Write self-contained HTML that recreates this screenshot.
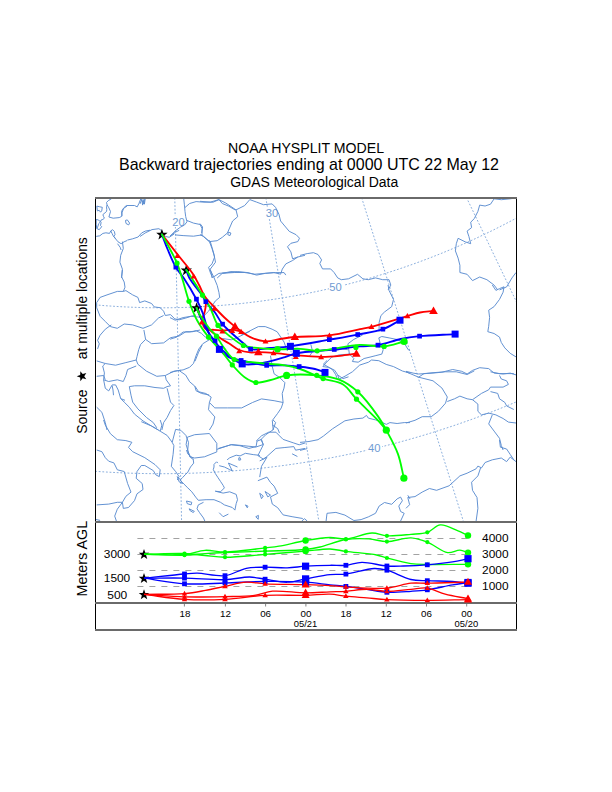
<!DOCTYPE html>
<html><head><meta charset="utf-8">
<style>
html,body{margin:0;padding:0;background:#fff;width:612px;height:792px;overflow:hidden}
svg{display:block;font-family:"Liberation Sans",sans-serif}
</style></head><body>
<svg width="612" height="792" viewBox="0 0 612 792">
<rect width="612" height="792" fill="#fff"/>
<!-- titles -->
<text x="228" y="152.8" font-size="14" textLength="156" lengthAdjust="spacingAndGlyphs">NOAA HYSPLIT MODEL</text>
<text x="119" y="169.9" font-size="17" textLength="380" lengthAdjust="spacingAndGlyphs">Backward trajectories ending at 0000 UTC 22 May 12</text>
<text x="230.2" y="186.8" font-size="14" textLength="168" lengthAdjust="spacingAndGlyphs">GDAS Meteorological Data</text>

<g id="map">
<clipPath id="mc"><rect x="96" y="199" width="420" height="322"/></clipPath><g clip-path="url(#mc)"><g fill="none" stroke="#8cb0de" stroke-width="1" stroke-dasharray="1.8,1.8"><line x1="174.63" y1="190.70" x2="181.76" y2="530"/><line x1="264.69" y1="190.70" x2="320.32" y2="530"/><line x1="359.49" y1="190.80" x2="466.12" y2="530"/><line x1="463.27" y1="190.80" x2="625.77" y2="530"/><path d="M88.0,304.19 92.0,304.57 96.0,304.93 100.0,305.27 104.0,305.59 108.0,305.89 112.0,306.16 116.0,306.42 120.0,306.65 124.0,306.86 128.0,307.05 132.0,307.22 136.0,307.37 140.0,307.49 144.0,307.60 148.0,307.68 152.0,307.74 156.0,307.78 160.0,307.80 164.0,307.80 168.0,307.77 172.0,307.72 176.0,307.66 180.0,307.57 184.0,307.46 188.0,307.33 192.0,307.17 196.0,307.00 200.0,306.80 204.0,306.58 208.0,306.35 212.0,306.08 216.0,305.80 220.0,305.50 224.0,305.17 228.0,304.83 232.0,304.46 236.0,304.07 240.0,303.65 244.0,303.22 248.0,302.76 252.0,302.29 256.0,301.79 260.0,301.26 264.0,300.72 268.0,300.16 272.0,299.57 276.0,298.96 280.0,298.33 284.0,297.67 288.0,297.00 292.0,296.30 296.0,295.57 300.0,294.83 304.0,294.06 308.0,293.28 312.0,292.46 316.0,291.63 320.0,290.77 324.0,289.89 328.0,288.99 332.0,288.06 336.0,287.11 340.0,286.14 344.0,285.14 348.0,284.12 352.0,283.08 356.0,282.01 360.0,280.92 364.0,279.80 368.0,278.67 372.0,277.50 376.0,276.32 380.0,275.10 384.0,273.87 388.0,272.61 392.0,271.32 396.0,270.01 400.0,268.67 404.0,267.31 408.0,265.93 412.0,264.52 416.0,263.08 420.0,261.62 424.0,260.13 428.0,258.61 432.0,257.07 436.0,255.50 440.0,253.91 444.0,252.29 448.0,250.64 452.0,248.97 456.0,247.26 460.0,245.53 464.0,243.78 468.0,241.99 472.0,240.17 476.0,238.33 480.0,236.46 484.0,234.56 488.0,232.63 492.0,230.67 496.0,228.68 500.0,226.66 504.0,224.62 508.0,222.54 512.0,220.43 516.0,218.28 520.0,216.11"/><path d="M88.0,470.74 92.0,471.06 96.0,471.35 100.0,471.63 104.0,471.89 108.0,472.14 112.0,472.36 116.0,472.57 120.0,472.76 124.0,472.93 128.0,473.09 132.0,473.23 136.0,473.35 140.0,473.45 144.0,473.53 148.0,473.60 152.0,473.65 156.0,473.68 160.0,473.70 164.0,473.70 168.0,473.68 172.0,473.64 176.0,473.58 180.0,473.51 184.0,473.42 188.0,473.31 192.0,473.19 196.0,473.04 200.0,472.88 204.0,472.71 208.0,472.51 212.0,472.30 216.0,472.07 220.0,471.82 224.0,471.55 228.0,471.27 232.0,470.97 236.0,470.65 240.0,470.31 244.0,469.96 248.0,469.58 252.0,469.19 256.0,468.79 260.0,468.36 264.0,467.92 268.0,467.46 272.0,466.98 276.0,466.48 280.0,465.96 284.0,465.43 288.0,464.88 292.0,464.31 296.0,463.72 300.0,463.12 304.0,462.50 308.0,461.85 312.0,461.19 316.0,460.52 320.0,459.82 324.0,459.10 328.0,458.37 332.0,457.62 336.0,456.85 340.0,456.06 344.0,455.25 348.0,454.43 352.0,453.58 356.0,452.72 360.0,451.84 364.0,450.94 368.0,450.02 372.0,449.08 376.0,448.12 380.0,447.14 384.0,446.15 388.0,445.13 392.0,444.10 396.0,443.04 400.0,441.97 404.0,440.88 408.0,439.77 412.0,438.63 416.0,437.48 420.0,436.31 424.0,435.12 428.0,433.91 432.0,432.68 436.0,431.43 440.0,430.15 444.0,428.86 448.0,427.55 452.0,426.22 456.0,424.86 460.0,423.49 464.0,422.10 468.0,420.68 472.0,419.24 476.0,417.79 480.0,416.31 484.0,414.81 488.0,413.29 492.0,411.74 496.0,410.18 500.0,408.59 504.0,406.98 508.0,405.35 512.0,403.70 516.0,402.03 520.0,400.33"/></g><g fill="#6f9bd3" font-size="11.2" font-family="Liberation Sans, sans-serif"><rect x="171" y="216" width="15" height="11" fill="#fff"/><text x="172.2" y="226.4">20</text><rect x="265" y="207" width="15" height="11" fill="#fff"/><text x="265.8" y="216.9">30</text><rect x="329" y="281" width="15" height="11" fill="#fff"/><text x="329.3" y="291">50</text><rect x="367" y="443" width="15" height="11" fill="#fff"/><text x="368" y="452.3">40</text></g><g fill="none" stroke="#5b8cd0" stroke-width="0.95" stroke-linejoin="round"><path d="M111.4,198.8 108.3,200.6 106.5,202.5 107.1,204.9 106.5,206.7 106.8,209.7 106.5,211.5 105.0,212.8 102.9,214.6 103.5,216.4 104.4,218.2 102.9,219.4 101.1,220.0 100.5,221.8 98.6,223.7 98.0,226.1 96.8,228.5"/><path d="M107.1,204.9 108.9,207.9 110.5,211.5 109.8,214.0 108.9,217.0 113.2,218.2 119.2,217.6 121.7,216.4 122.0,212.8 123.5,208.5 127.0,206.1"/><path d="M96.8,206.1 99.2,206.7 102.3,207.3 101.7,210.9 100.5,212.2 99.2,210.3 97.4,210.9 96.8,206.1"/><path d="M96.2,219.4 98.6,220.0 101.1,222.5 100.5,225.5 101.7,226.7 99.2,229.7 96.8,228.5 96.2,224.3 96.2,219.4"/><path d="M96.2,236.4 99.8,235.8 102.9,233.4 105.9,232.8 109.5,233.4 110.8,230.9 112.6,229.7 114.4,231.5 115.0,234.6 113.8,236.4 115.6,238.8 118.0,241.8 121.1,243.7 124.1,241.8 127.0,240.6"/><path d="M110.8,230.9 112.0,233.4 113.2,235.8 115.6,238.8"/><path d="M122.0,215.9 121.5,211.4 123.8,207.8 126.4,205.5 134.5,205.5 137.2,206.9 139.0,203.3 140.8,198.8"/><path d="M141.7,198.8 142.6,205.1 144.0,199.7 144.4,204.2 145.3,198.3"/><path d="M125.5,220.4 127.3,219.9 129.6,223.1 128.7,224.9 126.0,223.5 125.5,220.4"/><path d="M127.3,240.1 132.7,238.8 138.1,237.0 141.7,232.9 145.3,231.1 150.0,230.2"/><path d="M117.5,243.7 120.2,247.3 121.1,250.0"/><path d="M140.0,236.5 145.1,233.0 152.0,229.6 158.9,228.7 161.4,230.5 162.3,233.9 165.7,236.5 169.2,237.3 174.3,233.9"/><path d="M208.6,239.9 210.3,241.6 213.8,253.6 215.5,262.2 210.3,269.1 212.1,278.0"/><path d="M222.3,273.3 230.9,271.6 245.0,272.5"/><path d="M140.0,203.9 141.7,199.6 143.4,203.9 144.3,198.7"/><path d="M122.4,270.0 121.6,276.9 124.2,282.0 125.0,287.2 123.3,291.4"/><path d="M96.7,302.6 100.1,297.4 107.0,294.9 117.3,291.4 123.3,291.4 125.9,290.6 132.7,294.9 137.9,297.4 139.6,302.6 144.8,300.9 151.6,303.5 154.2,306.9 160.2,307.7 163.6,311.2 165.3,315.5 170.5,314.6 174.8,318.9 179.1,319.8 185.9,318.0 191.1,316.3 200.0,317.2"/><path d="M96.7,302.6 96.7,307.7 100.1,316.3 105.3,321.5 110.4,326.6 117.3,328.3 124.2,324.0 132.7,324.9 143.0,328.3 151.6,324.9 158.5,318.0 163.6,315.5"/><path d="M111.3,324.9 105.3,329.2 100.1,335.2 97.6,340.3 99.3,343.8 97.6,348.9"/><path d="M122.4,241.6 123.3,248.5 120.7,255.3 119.9,262.2 122.4,269.1 121.6,278.0"/><path d="M143.9,330.0 145.6,339.4 140.5,344.6 138.7,349.7 137.0,356.6 136.2,360.0 125.9,362.6 115.6,365.2 105.3,363.5 96.7,360.9"/><path d="M145.6,339.4 151.6,343.7 163.6,342.9 170.5,337.7 179.1,336.0 185.9,331.7 192.8,331.7 200.0,330.0"/><path d="M136.2,360.0 137.9,364.3 146.5,371.2 156.8,376.3 165.3,375.5 173.9,371.2 180.8,370.3"/><path d="M105.3,363.5 102.7,366.0 104.4,372.9 103.6,379.8 108.7,381.5 117.3,379.8 123.3,381.5 125.9,375.5 127.6,369.5 136.2,366.0"/><path d="M96.7,376.3 103.6,375.5 105.3,379.8"/><path d="M103.6,379.8 105.3,388.3 108.7,390.9 112.2,384.9 115.6,384.9 118.2,390.0 120.7,398.6 124.2,402.1 129.3,407.2 134.5,414.1 143.0,420.9 151.6,426.1 158.5,430.0"/><path d="M112.2,385.8 113.0,390.0 113.5,395.2"/><path d="M120.7,398.6 125.0,400.3"/><path d="M129.3,386.6 131.0,395.2 132.7,402.1 137.9,408.9 146.5,417.5 153.3,422.6 156.8,427.8"/><path d="M129.3,386.6 134.5,385.8 144.8,385.8 155.0,387.5 163.6,388.3 167.1,386.6 170.5,385.8 166.2,379.8 165.3,375.5"/><path d="M167.1,388.3 168.8,395.2 170.5,402.1 173.9,405.5 170.5,410.6 167.1,417.5 163.6,422.6 161.9,430.0"/><path d="M96.7,407.2 101.9,412.3 105.3,422.6 107.0,430.0"/><path d="M103.6,420.0 105.3,425.1 110.4,433.7 117.3,439.7 125.9,440.6 131.9,442.3 128.5,447.4 132.7,451.7 144.8,457.7 155.0,464.6 160.2,469.8 159.3,476.6 155.9,474.9 153.3,470.6 144.8,465.5 141.3,465.5 137.0,471.5 136.2,478.3 142.2,483.5 143.0,489.5 137.0,493.8 134.5,500.6 128.5,507.5 123.3,508.4 122.4,502.3"/><path d="M96.7,450.0 101.9,451.7 105.3,457.7 108.7,461.2 113.9,462.9 117.3,469.8 124.2,471.5 127.6,483.5 131.0,492.1 125.9,496.3 122.4,502.3 117.3,509.2 114.7,516.1 116.4,521.0"/><path d="M96.7,504.9 108.7,504.1 117.3,502.3 122.4,502.3"/><path d="M95.9,519.5 100.1,520.4"/><path d="M141.3,421.7 151.6,426.0 160.2,431.2 167.1,435.4 172.2,442.3 173.9,445.7 173.1,454.3 171.3,466.3 175.6,471.5 179.1,476.6 177.3,480.0"/><path d="M160.2,420.0 161.9,425.1 160.2,431.2"/><path d="M172.2,442.3 175.6,429.4 180.8,430.3 185.9,435.4 188.5,442.3 187.6,450.9 190.2,456.9 192.8,459.5"/><path d="M177.3,476.6 179.9,479.2 182.5,483.5 179.1,481.8 177.3,476.6"/><path d="M200.0,201.3 210.3,202.1 218.9,199.6 225.7,203.0 236.0,209.9 244.6,205.6 249.8,199.6 256.6,202.1 263.5,204.7 272.1,203.9 275.5,207.3 278.9,214.2 280.6,221.0 289.2,231.3 296.1,234.7 299.5,238.2 297.8,241.6 290.9,243.3 287.5,246.8 290.9,251.9 292.6,258.8 297.8,257.0 305.0,255.3"/><path d="M236.0,209.9 237.7,216.7 232.6,221.0 230.0,227.0 227.4,233.0 222.3,237.3 217.2,240.7 209.4,241.6 203.4,236.5 200.0,234.7"/><path d="M200.0,223.6 202.6,227.0 201.7,233.0"/><path d="M228.3,232.2 230.9,233.0 230.0,235.6 227.8,234.7 228.3,232.2"/><path d="M209.4,241.6 212.0,248.5 214.6,257.0 212.0,263.9 208.6,267.3 210.3,272.5 212.9,278.0"/><path d="M217.2,278.0 222.3,273.3 234.3,272.5 244.6,272.5 254.9,274.2 265.2,273.3 273.8,272.5 280.6,274.2 282.3,269.1 285.8,263.9 292.6,260.5 297.8,257.0"/><path d="M210.3,270.0 213.7,276.9 217.2,285.4 218.9,292.3 219.7,297.4 215.4,300.9 212.0,306.0 208.6,311.2 205.1,314.6 201.7,319.8"/><path d="M213.7,276.9 218.9,273.4 227.4,272.6 237.7,271.7 248.0,272.6 256.6,275.1 265.2,273.4 275.5,272.6 284.1,272.6 285.8,275.1"/><path d="M241.2,335.2 249.8,330.9 258.3,326.6 265.2,326.6 272.1,329.2 277.2,331.8 280.6,336.9 284.1,342.1 285.8,347.2 287.5,351.0"/><path d="M270.5,355.8 272.3,366.6 274.1,373.8 279.5,377.4 283.1,380.9 284.9,382.7"/><path d="M284.9,382.7 284.0,388.1 282.2,393.5 283.1,402.5 281.3,407.9 277.7,413.3 272.3,420.5 273.2,430.0"/><path d="M195.0,386.3 198.6,391.7 205.8,393.5 211.2,397.1 209.4,402.5 214.8,407.9 227.4,407.9 241.7,407.9 252.5,402.5 261.5,398.9 274.1,400.7 283.1,402.5"/><path d="M209.4,402.5 208.5,409.7 214.8,416.9 213.0,424.1 209.4,430.0"/><path d="M202.2,345.0 198.6,352.2 195.0,361.2"/><path d="M218.4,448.4 230.9,444.8 239.9,445.7 248.9,448.4 256.1,446.6 257.0,441.2 261.5,439.4 263.3,444.8 260.6,450.2 257.9,455.6 263.3,459.1 266.9,456.5"/><path d="M256.1,441.2 261.5,435.8 268.7,432.2 275.9,432.2 279.5,435.8 283.1,439.4 293.8,443.0 299.2,444.8 305.0,443.0"/><path d="M272.3,425.0 277.7,428.6 279.5,433.1"/><path d="M266.9,456.5 275.9,448.4 284.9,447.5 293.8,446.6 295.6,450.2 305.0,448.4"/><path d="M292.1,453.8 297.4,456.5"/><path d="M259.7,460.9 266.9,457.4 261.5,466.3 259.7,477.1"/><path d="M257.9,480.7 266.9,477.1 270.5,482.5 274.1,486.1 277.7,493.3 270.5,496.9 272.3,504.1 277.7,507.7 283.1,514.9 292.1,516.7 302.8,518.5"/><path d="M259.7,493.3 263.3,496.0 261.5,498.7 259.7,493.3"/><path d="M265.1,491.5 270.5,495.1 267.8,496.9 265.1,491.5"/><path d="M300.0,255.4 307.2,253.6 313.5,252.7 318.0,254.5 321.6,259.9 319.8,263.5 322.5,268.9 330.6,268.9 334.1,272.5 337.7,277.9 341.3,279.7 348.5,278.8 357.5,274.3 362.9,278.8 368.3,279.7 375.5,277.9 382.7,279.7 389.0,279.7 390.8,285.1 388.1,289.9"/><path d="M388.1,285.0 389.0,290.4 393.5,299.4 391.7,306.6 384.5,312.0 380.9,315.6 379.1,322.7 379.1,331.7"/><path d="M327.0,360.5 323.4,364.1 332.4,369.5 335.9,374.9 336.8,377.9"/><path d="M310.8,344.3 312.6,351.5 309.0,356.9"/><path d="M322.9,366.6 325.9,362.9 331.8,357.1 339.1,354.9 349.4,354.1 353.8,358.5 352.4,361.5 358.2,362.2 364.1,358.5 370.0,357.1 375.9,355.6 381.8,354.1 383.2,349.7 380.3,343.8 378.8,337.9 381.8,336.5 389.1,337.9 396.5,339.4 403.8,342.4 408.2,349.7 410.0,350.4"/><path d="M322.9,366.6 328.8,367.4 334.7,370.3 337.6,374.7 339.1,379.1 345.0,376.2 352.4,371.8 359.7,365.1 368.5,362.2 371.5,360.0"/><path d="M371.5,360.0 378.8,360.7 386.2,364.4 393.5,366.6 402.4,371.0 410.0,373.2"/><path d="M336.2,350.4 342.1,349.0 347.9,349.7"/><path d="M349.4,354.1 347.9,343.8 353.8,339.4 362.6,335.0"/><path d="M300.0,442.4 309.0,441.5 318.0,439.7 323.4,436.1 332.4,428.9 344.9,420.8 353.9,419.0 362.9,418.1 366.5,415.4 368.3,418.1 375.5,419.9 380.9,421.7 386.3,424.4 389.9,422.6 397.1,423.5 404.2,422.6 410.0,422.6"/><path d="M337.7,375.0 343.1,378.6 348.5,376.8"/><path d="M326.1,521.0 327.0,513.3 335.9,512.4 344.9,515.1 353.9,520.5 361.1,519.6 368.3,516.9 375.5,513.3 379.1,506.1 384.5,502.5 391.7,504.3 397.1,498.9 400.6,497.1 402.4,500.7 398.8,506.1 400.6,511.5 404.2,513.3 400.6,521.0"/><path d="M407.8,495.3 410.0,498.9"/><path d="M300.0,450.4 307.2,448.6"/><path d="M301.8,521.0 304.5,518.7 307.2,521.0"/><path d="M516.0,197.9 510.2,198.8 501.3,199.7 494.1,198.8 490.5,204.2 485.1,206.0 479.7,205.1 477.9,211.4 474.3,218.6 470.7,222.2 471.6,227.6 467.1,231.1 468.9,236.5 470.7,243.7 465.3,241.9 458.1,238.3 456.3,243.7 455.4,250.9 458.1,258.1 459.9,265.3 459.9,272.5 467.1,274.3 472.5,280.6 479.7,277.0 486.9,279.7 494.1,285.1 497.7,289.9"/><path d="M499.5,289.9 506.6,286.9 512.0,277.9 516.0,272.5"/><path d="M492.3,285.0 495.9,290.4 499.5,288.6 504.0,286.8 503.1,292.2 499.5,299.4 494.1,306.6 488.7,310.2 489.6,317.4 488.7,326.3 487.8,331.7 494.1,333.5 499.5,337.1 501.3,342.5 504.8,347.9 510.2,353.3 516.0,356.9"/><path d="M406.0,371.3 413.2,373.1 418.6,374.0 433.0,373.1 441.9,372.2 452.7,369.5 461.7,371.3 467.1,374.0 472.5,370.4 479.7,367.7 488.7,368.6 494.1,373.1 503.1,374.0 510.2,373.1 516.0,374.9"/><path d="M406.0,371.8 418.6,377.2 424.0,373.6 433.0,372.7 445.5,371.8 456.3,371.8 467.1,374.5 474.3,370.9"/><path d="M490.5,371.8 499.5,373.6 513.8,373.6"/><path d="M418.6,377.2 433.0,380.8 441.9,388.0 447.3,397.0 445.5,403.2 438.4,411.3 431.2,416.7 422.2,416.7 415.0,420.3 406.0,423.0"/><path d="M447.3,401.5 454.5,398.8 459.9,396.1 467.1,398.8 472.5,399.7 477.9,404.1 477.9,411.3 481.5,414.9 488.7,413.1 495.9,414.9 503.1,418.5 508.4,422.1 516.0,423.0"/><path d="M472.5,399.7 481.5,393.4 488.7,389.8 490.5,387.1 503.1,387.1 508.4,384.4 506.6,380.8 501.3,379.0 499.5,375.4"/><path d="M490.5,391.6 497.7,393.4 499.5,398.8 504.8,402.4 506.6,405.9 513.8,409.5"/><path d="M492.3,414.9 488.7,423.9 494.1,431.1 499.5,438.3 501.3,445.5 503.1,450.0"/><path d="M406.0,508.3 409.6,504.7 407.8,497.5 415.0,496.6 422.2,492.1 429.4,488.5 436.6,490.3 449.1,485.8 459.9,475.9 467.1,473.2 476.1,468.8 477.9,466.1 481.5,467.9 485.1,462.5 492.3,459.8 501.3,458.0 506.6,461.6 510.2,457.1 516.0,461.6"/><path d="M499.5,440.0 500.4,447.2 506.6,449.0 510.2,454.4 513.8,459.8"/><path d="M480.6,467.9 477.9,475.9 471.6,482.2 472.5,490.3 477.0,497.5 477.9,508.3 476.1,521.1"/><path d="M170.0,317.6 175.2,320.2 183.1,317.6 190.9,316.3 196.1,315.0"/><path d="M170.0,339.2 176.5,337.2 183.1,332.0 189.6,332.0 196.1,330.7 201.4,333.3 204.0,335.9 209.2,339.8"/><path d="M209.2,339.8 202.7,343.8 198.8,349.0 196.1,355.5 193.5,363.4 189.6,367.3 183.1,369.9 177.8,370.6 170.0,372.5"/><path d="M179.2,370.6 185.7,375.1 189.6,381.7 194.8,386.2 196.1,390.8 201.4,393.4 209.2,395.0"/><path d="M222.3,338.5 231.4,339.8 238.0,337.2 250.0,331.3"/><path d="M186.5,450.0 187.8,453.9 193.1,458.5"/><path d="M193.1,458.5 193.7,463.1 190.5,467.0 187.8,472.2 185.2,474.8 182.6,477.5 180.0,480.1"/><path d="M216.6,461.8 214.0,464.4 214.0,467.0 213.3,469.6 215.3,473.5 217.9,477.5 220.5,481.4 223.1,485.3 224.4,487.9 220.5,491.8 215.3,491.2 223.1,493.1 229.7,491.8 236.2,494.4 237.5,499.7 236.2,503.6 234.9,510.1"/><path d="M219.2,465.7 224.4,467.0 229.7,469.6 232.3,470.9 228.4,463.1 237.5,467.0"/><path d="M217.9,463.1 216.6,461.8"/><path d="M227.1,459.8 229.7,457.8 236.2,455.2 240.1,455.9 245.4,453.3 253.2,454.6 258.4,455.2 260.0,455.9"/><path d="M238.8,457.8 240.1,457.8 240.8,459.8 238.8,460.2 238.8,457.8"/><path d="M180.0,480.1 183.9,484.0 187.8,487.9 191.8,491.8 195.7,497.1 198.3,500.3 206.1,499.7 214.0,499.7 220.5,502.3 224.4,504.9 232.3,507.5 234.9,510.1"/><path d="M203.5,502.3 198.3,504.9 197.0,508.8 199.6,512.7 203.5,518.0 204.8,521.0"/><path d="M219.2,512.7 223.1,516.7 228.4,514.1"/><path d="M186.5,501.0 191.8,502.3 191.1,504.9 187.2,503.6 186.5,501.0"/><path d="M189.2,508.8 194.4,511.4 193.1,512.5 189.8,510.4 189.2,508.8"/><path d="M245.4,504.9 248.0,506.2 247.3,507.8 245.4,504.9"/><path d="M255.8,516.7 258.4,515.4 258.2,519.3 255.8,516.7"/><path d="M187.4,437.2 194.7,434.7 209.4,433.5 216.8,443.3 216.8,451.9 204.5,456.8 194.7,458.0 189.8,456.8 186.1,444.5 187.4,437.2"/><path d="M216.8,449.4 231.5,444.5 243.7,445.7 256.0,447.0 263.3,444.5 260.9,439.6 265.8,434.7 273.1,429.8 275.6,422.5 273.1,420.0"/><path d="M183.7,198.3 184.4,204.8 185.0,211.4 185.7,216.6 187.0,221.8 184.4,225.1 180.5,227.1 175.2,231.0 170.0,236.2"/><path d="M185.0,207.5 189.6,203.5 196.1,201.6 204.0,202.2 213.1,202.2 219.0,199.6 222.3,203.5 228.8,206.2 235.4,210.1"/><path d="M187.0,220.5 193.5,223.1 200.1,224.5 202.0,228.4 202.0,234.9"/><path d="M175.2,234.9 183.1,235.6 193.5,236.2 202.0,234.9 209.2,241.4"/><path d="M170.0,236.2 175.2,232.3 179.2,230.3"/></g></g>
</g>
<g id="traj">
<path d="M161.90,228.70 L163.31,232.76 L167.61,232.85 L164.18,235.44 L165.43,239.55 L161.90,237.10 L158.37,239.55 L159.62,235.44 L156.19,232.85 L160.49,232.76Z" fill="#000"/>
<path d="M186.30,264.40 L187.71,268.46 L192.01,268.55 L188.58,271.14 L189.83,275.25 L186.30,272.80 L182.77,275.25 L184.02,271.14 L180.59,268.55 L184.89,268.46Z" fill="#000"/>
<path d="M196.60,302.20 L198.01,306.26 L202.31,306.35 L198.88,308.94 L200.13,313.05 L196.60,310.60 L193.07,313.05 L194.32,308.94 L190.89,306.35 L195.19,306.26Z" fill="#000"/>
<path d="M161.90,234.40 C167.33,241.37 172.95,248.64 178.20,255.30 C183.05,261.46 188.61,267.54 192.30,273.00 C195.18,277.27 196.96,280.99 199.10,285.00 C201.19,288.92 202.67,293.36 205.00,296.80 C207.13,299.94 209.53,302.01 212.30,305.00 C215.79,308.76 220.51,313.82 224.40,317.50 C227.74,320.66 230.99,323.40 234.10,325.90 C236.83,328.09 239.30,329.92 242.00,331.80 C244.70,333.69 246.98,335.72 250.30,337.20 C254.49,339.07 260.46,341.03 265.50,341.30 C270.36,341.56 275.14,339.71 280.00,339.00 C284.90,338.28 288.82,337.54 294.80,337.00 C303.91,336.18 318.27,336.78 329.40,335.40 C339.97,334.09 352.27,330.80 360.00,329.20 C364.72,328.22 366.57,328.02 371.40,326.80 C380.07,324.60 398.47,318.70 407.40,316.10 C412.67,314.56 415.69,313.36 420.00,312.50 C424.39,311.62 429.00,311.43 433.50,310.90" fill="none" stroke="#ff0000" stroke-width="1.85" stroke-linecap="round" stroke-linejoin="round"/>
<path d="M202.50,293.00 C203.60,295.33 205.31,297.35 205.80,300.00 C206.38,303.12 205.62,307.41 205.00,310.70 C204.45,313.62 202.71,316.16 202.50,318.80 C202.30,321.25 202.60,324.09 203.50,326.00 C204.26,327.61 205.47,329.13 207.00,329.80 C208.71,330.55 211.17,329.71 213.50,329.80 C216.24,329.91 219.24,330.47 222.40,330.50 C226.01,330.53 230.51,329.48 234.00,329.80 C236.94,330.07 239.33,331.13 242.00,331.80" fill="none" stroke="#ff0000" stroke-width="1.85" stroke-linecap="round" stroke-linejoin="round"/>
<path d="M196.60,307.90 C198.07,311.27 199.40,314.89 201.00,318.00 C202.46,320.84 203.43,323.20 205.70,325.90 C208.88,329.68 215.09,334.50 219.40,337.60 C222.83,340.07 225.93,341.46 229.20,343.50 C232.53,345.59 235.66,348.51 239.20,350.00 C242.61,351.43 246.62,352.07 250.00,352.40 C252.93,352.69 255.12,352.17 258.30,352.20 C262.61,352.25 267.96,352.47 273.50,352.90 C280.23,353.42 288.12,354.66 295.80,355.30 C303.96,355.98 313.28,356.78 321.10,356.80 C327.86,356.82 333.93,356.35 340.00,355.80 C345.67,355.29 350.93,354.40 356.40,353.70" fill="none" stroke="#ff0000" stroke-width="1.85" stroke-linecap="round" stroke-linejoin="round"/>
<path d="M161.90,234.40 C163.83,239.43 165.51,244.30 167.70,249.50 C170.10,255.20 172.84,262.15 175.80,267.20 C178.25,271.39 180.86,273.72 183.70,278.00 C187.56,283.81 193.06,292.90 196.40,299.20 C198.95,304.02 200.54,307.28 202.50,312.30 C204.99,318.70 206.78,329.82 209.60,334.70 C211.25,337.55 213.43,338.31 215.00,340.60 C216.75,343.14 217.27,346.75 219.40,349.40 C221.81,352.40 225.55,355.45 229.20,357.30 C232.82,359.14 237.09,359.50 241.20,360.50 C245.48,361.54 250.07,362.57 254.40,363.40 C258.56,364.19 262.18,365.03 266.70,365.40 C272.18,365.84 279.29,365.16 285.00,365.40 C290.04,365.61 294.35,366.03 299.20,366.60 C304.34,367.21 310.38,367.87 315.00,369.00 C318.76,369.92 321.67,371.27 325.00,372.40" fill="none" stroke="#0000ff" stroke-width="1.85" stroke-linecap="round" stroke-linejoin="round"/>
<path d="M186.30,270.10 C187.33,272.73 187.73,274.96 189.40,278.00 C192.10,282.93 199.65,291.62 202.50,296.00 C204.05,298.38 204.31,299.58 205.80,301.70 C207.97,304.78 212.03,308.57 214.80,312.30 C217.60,316.07 219.64,320.70 222.50,324.20 C225.15,327.44 227.94,329.70 231.20,332.70 C235.14,336.32 240.98,341.28 244.60,344.30 C247.01,346.31 247.87,348.30 250.70,349.20 C255.15,350.61 263.48,348.47 270.00,348.00 C276.71,347.51 282.53,347.29 290.40,346.30 C301.34,344.92 317.43,341.79 329.40,339.70 C339.62,337.92 348.64,336.41 357.80,334.60 C366.44,332.90 375.50,331.89 382.90,329.20 C389.32,326.87 394.30,323.20 400.00,320.20" fill="none" stroke="#0000ff" stroke-width="1.85" stroke-linecap="round" stroke-linejoin="round"/>
<path d="M196.60,307.90 C197.73,310.60 198.67,313.05 200.00,316.00 C201.64,319.63 203.49,323.92 205.80,328.00 C208.39,332.57 211.35,337.51 215.00,342.00 C218.97,346.88 224.16,352.23 229.00,356.00 C233.27,359.33 237.26,362.59 242.20,363.90 C247.51,365.30 253.62,364.38 260.00,363.50 C267.68,362.44 278.33,359.07 285.00,357.10 C289.53,355.76 291.35,354.37 296.30,353.30 C305.17,351.39 322.87,350.76 334.30,349.50 C343.71,348.46 352.19,347.13 360.00,346.40 C366.52,345.79 371.70,346.26 378.00,345.20 C385.21,343.99 393.52,340.53 400.80,339.00 C407.33,337.63 412.33,336.96 419.60,336.20 C429.55,335.17 443.27,334.80 455.10,334.10" fill="none" stroke="#0000ff" stroke-width="1.85" stroke-linecap="round" stroke-linejoin="round"/>
<path d="M161.90,234.40 C164.50,239.10 167.19,243.72 169.70,248.50 C172.23,253.32 174.92,258.22 177.00,263.20 C179.03,268.06 180.33,272.49 182.10,278.00 C184.30,284.87 186.40,294.03 189.00,301.30 C191.38,307.95 193.66,314.05 196.90,320.00 C200.18,326.02 204.33,331.78 208.60,337.20 C212.84,342.58 218.25,347.51 222.40,352.40 C226.05,356.71 228.69,360.85 232.30,364.90 C236.07,369.13 240.31,374.19 244.60,377.20 C248.23,379.75 251.59,381.95 255.90,382.50 C261.13,383.17 268.54,380.41 274.00,379.10 C278.61,377.99 281.43,376.15 286.60,375.40 C294.42,374.26 307.43,374.44 316.70,375.30 C324.78,376.05 332.31,376.81 339.20,379.60 C345.99,382.35 351.83,386.44 357.80,391.80 C365.01,398.28 373.34,409.68 378.40,416.90 C381.89,421.88 383.52,425.06 386.30,430.20 C389.95,436.95 395.05,445.95 398.00,454.10 C400.85,461.97 401.93,470.17 403.90,478.20" fill="none" stroke="#00ff00" stroke-width="1.85" stroke-linecap="round" stroke-linejoin="round"/>
<path d="M186.30,270.10 C187.63,272.07 188.63,273.45 190.30,276.00 C193.29,280.55 198.88,289.30 202.50,295.20 C205.55,300.15 208.18,304.12 210.70,309.00 C213.37,314.16 214.72,320.84 218.00,325.40 C221.02,329.60 225.12,332.44 229.20,335.70 C233.54,339.17 238.77,343.54 243.40,345.50 C247.13,347.08 250.04,347.12 254.40,347.70 C260.67,348.54 269.85,349.12 277.50,349.30 C285.05,349.48 293.01,348.47 300.00,348.80 C306.13,349.09 310.19,350.87 317.20,350.80 C328.28,350.68 347.73,345.36 360.00,344.90 C369.19,344.55 376.58,347.09 384.20,346.40 C391.21,345.77 397.47,343.13 404.10,341.50" fill="none" stroke="#00ff00" stroke-width="1.85" stroke-linecap="round" stroke-linejoin="round"/>
<path d="M196.60,307.90 C197.20,309.37 197.41,310.45 198.40,312.30 C200.38,316.00 205.62,323.71 209.00,328.00 C211.59,331.29 214.10,333.08 216.50,336.20 C219.24,339.76 221.37,344.57 224.30,348.40 C227.24,352.24 229.72,356.82 234.10,359.20 C239.30,362.02 246.92,361.54 254.40,362.50 C263.54,363.67 276.64,364.01 285.00,365.40 C290.92,366.39 294.54,367.22 300.00,369.00 C306.95,371.26 315.61,375.95 323.10,378.60 C329.94,381.02 337.49,380.99 343.10,384.50 C348.58,387.93 351.41,393.90 356.50,399.20 C362.83,405.79 373.02,414.97 378.40,420.80 C381.80,424.48 383.67,427.07 386.30,430.20" fill="none" stroke="#00ff00" stroke-width="1.85" stroke-linecap="round" stroke-linejoin="round"/>
<path d="M177.5,252.8L180.5,258.0L174.5,258.0Z" fill="#ff0000"/>
<path d="M193.7,273.4L196.7,278.6L190.7,278.6Z" fill="#ff0000"/>
<path d="M214.6,305.6L217.6,310.8L211.6,310.8Z" fill="#ff0000"/>
<path d="M235.0,322.0L239.2,329.4L230.8,329.4Z" fill="#ff0000"/>
<path d="M241.1,328.7L244.1,333.9L238.1,333.9Z" fill="#ff0000"/>
<path d="M265.5,338.4L268.5,343.6L262.5,343.6Z" fill="#ff0000"/>
<path d="M294.8,332.6L299.1,340.0L290.6,340.0Z" fill="#ff0000"/>
<path d="M329.4,332.5L332.4,337.7L326.4,337.7Z" fill="#ff0000"/>
<path d="M371.4,323.7L374.4,328.9L368.4,328.9Z" fill="#ff0000"/>
<path d="M407.4,313.0L410.4,318.2L404.4,318.2Z" fill="#ff0000"/>
<path d="M433.5,306.5L437.8,313.9L429.2,313.9Z" fill="#ff0000"/>
<path d="M201.7,319.4L204.7,324.6L198.7,324.6Z" fill="#ff0000"/>
<path d="M222.4,328.2L225.4,333.4L219.4,333.4Z" fill="#ff0000"/>
<path d="M232.2,327.7L235.2,332.9L229.2,332.9Z" fill="#ff0000"/>
<path d="M239.2,348.1L242.2,353.3L236.2,353.3Z" fill="#ff0000"/>
<path d="M258.3,347.8L262.6,355.2L254.1,355.2Z" fill="#ff0000"/>
<path d="M273.5,350.0L276.5,355.2L270.5,355.2Z" fill="#ff0000"/>
<path d="M295.8,353.9L298.8,359.1L292.8,359.1Z" fill="#ff0000"/>
<path d="M321.1,354.1L324.1,359.3L318.1,359.3Z" fill="#ff0000"/>
<path d="M356.4,349.3L360.6,356.7L352.1,356.7Z" fill="#ff0000"/>
<rect x="173.5" y="264.8" width="4.7" height="4.7" fill="#0000ff"/>
<rect x="194.1" y="296.8" width="4.7" height="4.7" fill="#0000ff"/>
<rect x="212.7" y="338.2" width="4.7" height="4.7" fill="#0000ff"/>
<rect x="215.9" y="345.9" width="7.0" height="7.0" fill="#0000ff"/>
<rect x="238.8" y="358.1" width="4.7" height="4.7" fill="#0000ff"/>
<rect x="264.3" y="363.0" width="4.7" height="4.7" fill="#0000ff"/>
<rect x="296.8" y="364.2" width="4.7" height="4.7" fill="#0000ff"/>
<rect x="321.5" y="368.9" width="7.0" height="7.0" fill="#0000ff"/>
<rect x="203.5" y="299.3" width="4.7" height="4.7" fill="#0000ff"/>
<rect x="220.2" y="321.8" width="4.7" height="4.7" fill="#0000ff"/>
<rect x="248.3" y="346.8" width="4.7" height="4.7" fill="#0000ff"/>
<rect x="286.9" y="342.8" width="7.0" height="7.0" fill="#0000ff"/>
<rect x="327.0" y="337.3" width="4.7" height="4.7" fill="#0000ff"/>
<rect x="355.4" y="332.2" width="4.7" height="4.7" fill="#0000ff"/>
<rect x="380.5" y="326.8" width="4.7" height="4.7" fill="#0000ff"/>
<rect x="396.5" y="316.7" width="7.0" height="7.0" fill="#0000ff"/>
<rect x="238.7" y="360.4" width="7.0" height="7.0" fill="#0000ff"/>
<rect x="292.8" y="349.8" width="7.0" height="7.0" fill="#0000ff"/>
<rect x="331.9" y="347.1" width="4.7" height="4.7" fill="#0000ff"/>
<rect x="375.6" y="342.8" width="4.7" height="4.7" fill="#0000ff"/>
<rect x="417.2" y="333.8" width="4.7" height="4.7" fill="#0000ff"/>
<rect x="451.6" y="330.6" width="7.0" height="7.0" fill="#0000ff"/>
<circle cx="177.0" cy="263.2" r="2.6" fill="#00ff00"/>
<circle cx="189.0" cy="301.3" r="2.6" fill="#00ff00"/>
<circle cx="208.6" cy="337.2" r="2.6" fill="#00ff00"/>
<circle cx="232.3" cy="364.9" r="2.6" fill="#00ff00"/>
<circle cx="255.9" cy="382.5" r="2.6" fill="#00ff00"/>
<circle cx="286.6" cy="375.4" r="3.6" fill="#00ff00"/>
<circle cx="316.7" cy="375.3" r="2.6" fill="#00ff00"/>
<circle cx="357.8" cy="391.8" r="2.6" fill="#00ff00"/>
<circle cx="386.3" cy="430.2" r="3.6" fill="#00ff00"/>
<circle cx="403.9" cy="478.2" r="3.6" fill="#00ff00"/>
<circle cx="202.5" cy="295.2" r="2.6" fill="#00ff00"/>
<circle cx="218.0" cy="325.4" r="2.6" fill="#00ff00"/>
<circle cx="243.4" cy="345.5" r="2.6" fill="#00ff00"/>
<circle cx="277.5" cy="349.3" r="3.3" fill="#00ff00"/>
<circle cx="317.2" cy="350.8" r="2.6" fill="#00ff00"/>
<circle cx="355.9" cy="347.4" r="2.6" fill="#00ff00"/>
<circle cx="384.2" cy="346.4" r="2.6" fill="#00ff00"/>
<circle cx="404.1" cy="341.5" r="3.6" fill="#00ff00"/>
<circle cx="216.5" cy="336.2" r="2.6" fill="#00ff00"/>
<circle cx="234.2" cy="359.6" r="2.6" fill="#00ff00"/>
<circle cx="323.1" cy="378.6" r="2.6" fill="#00ff00"/>
<circle cx="356.5" cy="399.2" r="2.6" fill="#00ff00"/>
</g>
<!-- frame -->
<g id="frame">
<rect x="95" y="197" width="1" height="434" fill="#000"/>
<rect x="516" y="197" width="1" height="434" fill="#000"/>
<rect x="95" y="197" width="422" height="2" fill="#6a6a6a"/>
<rect x="95" y="521" width="422" height="2" fill="#6a6a6a"/>
<rect x="95" y="602" width="422" height="2" fill="#6a6a6a"/>
<rect x="95" y="629" width="422" height="2" fill="#6a6a6a"/>
</g>

<!-- side labels -->
<text transform="translate(87.4,433.8) rotate(-90)" font-size="15" textLength="44.2" lengthAdjust="spacingAndGlyphs">Source</text>
<path d="M76.70,376.20 L80.20,374.89 L80.36,371.16 L82.69,374.08 L86.29,373.08 L84.23,376.20 L86.29,379.32 L82.69,378.32 L80.36,381.24 L80.20,377.51Z" fill="#000"/>
<text transform="translate(87.4,359.2) rotate(-90)" font-size="15" textLength="122" lengthAdjust="spacingAndGlyphs">at multiple locations</text>
<text transform="translate(87.2,596.5) rotate(-90)" font-size="15" textLength="75.6" lengthAdjust="spacingAndGlyphs">Meters AGL</text>

<!-- bottom panel -->
<g stroke="#a2a2a2" stroke-width="1" stroke-dasharray="6,6">
<line x1="137.4" y1="538.5" x2="469" y2="538.5"/>
<line x1="137.4" y1="554.5" x2="469" y2="554.5"/>
<line x1="137.4" y1="570.5" x2="469" y2="570.5"/>
<line x1="137.4" y1="586.5" x2="469" y2="586.5"/>
</g>
<g font-size="11.3">
<text x="482.1" y="542.2" textLength="26.4" lengthAdjust="spacingAndGlyphs">4000</text>
<text x="482.1" y="557.9" textLength="26.4" lengthAdjust="spacingAndGlyphs">3000</text>
<text x="482.1" y="574" textLength="26.4" lengthAdjust="spacingAndGlyphs">2000</text>
<text x="482.1" y="589.9" textLength="26.4" lengthAdjust="spacingAndGlyphs">1000</text>
<text x="103.8" y="557.9" textLength="26.4" lengthAdjust="spacingAndGlyphs">3000</text>
<text x="103.8" y="581.7" textLength="26.4" lengthAdjust="spacingAndGlyphs">1500</text>
<text x="107.3" y="598.6" textLength="20.0" lengthAdjust="spacingAndGlyphs">500</text>
</g>
<g font-size="9.8" text-anchor="middle">
<text x="185" y="616.9">18</text>
<text x="225.4" y="616.9">12</text>
<text x="265.6" y="616.9">06</text>
<text x="305.9" y="616.9">00</text>
<text x="346" y="616.9">18</text>
<text x="386.3" y="616.9">12</text>
<text x="426.5" y="616.9">06</text>
<text x="466.7" y="616.9">00</text>
<text x="305.5" y="626.9" textLength="23.6" lengthAdjust="spacingAndGlyphs">05/21</text>
<text x="466.4" y="626.9" textLength="23.6" lengthAdjust="spacingAndGlyphs">05/20</text>
</g>
<g stroke="#666" stroke-width="0.8">
<line x1="184.4" y1="604" x2="184.4" y2="606.5"/><line x1="225.4" y1="604" x2="225.4" y2="606.5"/><line x1="265.6" y1="604" x2="265.6" y2="606.5"/><line x1="305.9" y1="604" x2="305.9" y2="606.5"/>
<line x1="346" y1="604" x2="346" y2="606.5"/><line x1="386.3" y1="604" x2="386.3" y2="606.5"/><line x1="426.5" y1="604" x2="426.5" y2="606.5"/><line x1="466.7" y1="604" x2="466.7" y2="606.5"/>
</g>
<g id="panel">
<path d="M144.00,549.00 L145.33,552.68 L149.23,552.80 L146.14,555.20 L147.23,558.95 L144.00,556.75 L140.77,558.95 L141.86,555.20 L138.77,552.80 L142.67,552.68Z" fill="#000"/>
<path d="M144.00,573.00 L145.33,576.68 L149.23,576.80 L146.14,579.20 L147.23,582.95 L144.00,580.75 L140.77,582.95 L141.86,579.20 L138.77,576.80 L142.67,576.68Z" fill="#000"/>
<path d="M144.00,589.20 L145.33,592.88 L149.23,593.00 L146.14,595.40 L147.23,599.15 L144.00,596.95 L140.77,599.15 L141.86,595.40 L138.77,593.00 L142.67,592.88Z" fill="#000"/>
<path d="M144.20,554.20 C157.63,554.30 173.36,555.59 184.50,554.50 C192.53,553.72 198.18,550.70 205.00,550.30 C211.68,549.91 217.19,552.07 225.00,552.00 C236.07,551.91 255.20,549.01 265.10,547.90 C270.94,547.24 273.64,547.10 279.00,546.20 C286.46,544.95 296.89,541.97 305.60,540.50 C313.88,539.11 322.73,537.60 330.00,537.50 C335.86,537.42 339.98,539.39 345.90,539.00 C353.56,538.49 364.50,533.15 372.00,533.00 C377.64,532.89 381.32,535.46 386.90,535.80 C393.93,536.23 403.67,534.97 410.90,534.30 C416.89,533.75 422.30,533.95 427.30,532.30 C432.06,530.73 435.55,525.37 440.30,524.90 C445.53,524.38 452.52,528.62 457.50,530.60 C461.48,532.18 464.50,533.87 468.00,535.50" fill="none" stroke="#00ff00" stroke-width="1.35"/>
<path d="M144.20,554.20 C157.63,554.53 173.32,555.50 184.50,555.20 C192.48,554.99 198.21,554.05 205.00,553.60 C211.71,553.15 217.18,552.85 225.00,552.50 C236.06,552.00 251.70,551.60 265.10,551.10 C278.57,550.60 295.54,550.57 305.60,549.50 C311.64,548.86 314.54,548.26 320.00,547.00 C327.42,545.29 337.43,540.81 345.90,539.50 C353.74,538.28 361.81,538.45 369.00,538.90 C375.37,539.29 380.50,541.61 386.90,541.60 C394.32,541.59 403.69,537.55 410.90,537.90 C416.92,538.19 421.67,539.95 427.30,542.10 C433.84,544.59 441.54,551.73 447.60,552.60 C452.09,553.24 456.25,550.03 459.90,550.20 C462.90,550.34 465.30,551.80 468.00,552.60" fill="none" stroke="#00ff00" stroke-width="1.35"/>
<path d="M144.20,554.20 C157.63,553.97 173.33,553.05 184.50,553.50 C192.49,553.82 198.21,554.88 205.00,555.50 C211.71,556.11 217.18,557.14 225.00,557.20 C236.06,557.28 251.70,555.41 265.10,554.40 C278.57,553.38 293.80,552.09 305.60,551.10 C314.76,550.33 322.75,548.77 330.00,549.00 C335.88,549.19 339.73,550.57 345.90,551.40 C354.46,552.55 369.14,553.49 376.60,555.00 C381.00,555.89 382.73,556.91 386.90,558.00 C393.22,559.66 403.62,562.56 410.90,563.60 C416.85,564.45 420.61,564.33 427.30,564.50 C437.83,564.76 454.43,564.37 468.00,564.30" fill="none" stroke="#00ff00" stroke-width="1.35"/>
<path d="M144.20,578.20 C157.63,576.80 174.83,574.81 184.50,574.00 C189.92,573.55 192.15,573.13 197.20,573.20 C204.68,573.30 216.45,576.75 225.00,575.70 C232.68,574.76 239.33,569.69 246.30,568.30 C252.67,567.03 258.58,567.30 265.10,567.20 C272.17,567.09 280.18,568.01 287.20,567.80 C293.62,567.61 299.03,566.61 305.60,566.20 C313.15,565.73 322.73,565.43 330.00,565.30 C335.86,565.19 340.61,565.78 345.90,565.30 C351.25,564.82 355.96,562.51 361.90,562.40 C369.30,562.27 379.40,565.46 386.90,566.00 C392.98,566.44 397.47,566.15 403.50,566.00 C410.72,565.82 419.26,565.46 427.30,564.80 C435.59,564.11 445.14,563.08 452.50,561.90 C458.31,560.97 462.83,559.77 468.00,558.70" fill="none" stroke="#0000ff" stroke-width="1.35"/>
<path d="M144.20,578.20 C157.63,578.17 171.05,577.85 184.50,578.10 C197.99,578.35 213.19,580.11 225.00,579.70 C234.23,579.38 242.35,576.89 249.60,577.00 C255.37,577.09 259.48,578.42 265.10,579.20 C271.81,580.13 280.18,582.35 287.20,582.20 C293.63,582.06 299.03,580.07 305.60,578.90 C313.16,577.56 322.71,575.35 330.00,574.60 C335.84,574.00 339.88,574.79 345.90,574.10 C354.00,573.18 366.52,568.74 374.10,568.50 C379.18,568.34 382.05,568.96 386.90,570.20 C393.74,571.95 403.55,577.84 410.90,579.50 C416.78,580.82 421.24,580.38 427.30,580.70 C434.80,581.09 445.12,580.98 452.50,581.50 C458.30,581.91 462.83,582.63 468.00,583.20" fill="none" stroke="#0000ff" stroke-width="1.35"/>
<path d="M144.20,578.20 C157.63,580.07 171.02,583.00 184.50,583.80 C197.95,584.60 211.54,583.40 225.00,583.00 C238.40,582.60 251.70,581.53 265.10,581.40 C278.56,581.26 293.82,581.43 305.60,582.20 C314.77,582.80 322.73,584.16 330.00,584.90 C335.86,585.50 340.25,585.74 345.90,586.40 C352.40,587.16 359.90,588.31 366.80,589.30 C373.57,590.27 379.88,591.93 386.90,592.30 C394.53,592.71 403.66,591.78 410.90,591.30 C416.89,590.90 421.27,590.66 427.30,589.80 C434.83,588.73 445.10,586.19 452.50,584.90 C458.28,583.89 462.83,583.30 468.00,582.50" fill="none" stroke="#0000ff" stroke-width="1.35"/>
<path d="M144.20,594.40 C157.63,594.13 173.28,594.57 184.50,593.60 C192.63,592.90 198.56,591.64 205.40,590.40 C212.05,589.20 218.33,587.64 225.00,586.30 C231.95,584.90 239.40,582.56 246.30,582.20 C252.74,581.86 257.64,583.41 265.10,583.80 C276.03,584.37 293.80,584.24 305.60,584.60 C314.76,584.88 322.74,585.15 330.00,585.60 C335.87,585.96 339.36,586.54 345.90,586.90 C356.38,587.48 375.10,589.12 386.90,588.10 C396.02,587.31 403.63,583.94 410.90,583.20 C416.85,582.60 420.61,583.30 427.30,583.20 C437.84,583.04 454.43,582.40 468.00,582.00" fill="none" stroke="#ff0000" stroke-width="1.35"/>
<path d="M144.20,594.40 C157.63,595.23 171.04,596.53 184.50,596.90 C197.98,597.27 212.57,596.92 225.00,596.60 C235.61,596.33 245.92,596.46 254.50,595.30 C261.28,594.39 265.54,591.81 272.50,591.20 C281.82,590.38 295.41,592.76 305.60,592.80 C314.35,592.83 322.73,592.06 330.00,591.80 C335.86,591.59 340.24,591.66 345.90,591.30 C352.40,590.89 359.90,589.29 366.80,589.30 C373.57,589.31 379.90,591.24 386.90,591.30 C394.54,591.36 403.66,589.87 410.90,589.30 C416.88,588.83 421.79,587.39 427.30,588.10 C433.21,588.86 438.81,592.50 445.20,594.20 C452.28,596.08 460.40,597.13 468.00,598.60" fill="none" stroke="#ff0000" stroke-width="1.35"/>
<path d="M144.20,594.40 C157.63,596.03 171.03,598.48 184.50,599.30 C197.96,600.12 211.55,599.97 225.00,599.30 C238.42,598.63 251.68,595.97 265.10,595.30 C278.55,594.63 293.80,595.57 305.60,595.30 C314.76,595.09 322.75,593.91 330.00,594.20 C335.88,594.44 340.23,595.61 345.90,596.20 C352.38,596.87 359.90,597.33 366.80,597.90 C373.57,598.46 379.03,599.20 386.90,599.60 C398.03,600.17 413.81,600.30 427.30,600.30 C440.84,600.30 454.43,599.83 468.00,599.60" fill="none" stroke="#ff0000" stroke-width="1.35"/>
<circle cx="184.5" cy="554.5" r="2.1" fill="#00ff00"/>
<circle cx="225.0" cy="552.0" r="2.1" fill="#00ff00"/>
<circle cx="265.1" cy="547.9" r="2.1" fill="#00ff00"/>
<circle cx="305.6" cy="540.5" r="3.2" fill="#00ff00"/>
<circle cx="345.9" cy="539.0" r="2.1" fill="#00ff00"/>
<circle cx="386.9" cy="535.8" r="2.1" fill="#00ff00"/>
<circle cx="427.3" cy="532.3" r="2.1" fill="#00ff00"/>
<circle cx="468.0" cy="535.5" r="3.2" fill="#00ff00"/>
<circle cx="184.5" cy="555.2" r="2.1" fill="#00ff00"/>
<circle cx="225.0" cy="552.5" r="2.1" fill="#00ff00"/>
<circle cx="265.1" cy="551.1" r="2.1" fill="#00ff00"/>
<circle cx="305.6" cy="549.5" r="3.2" fill="#00ff00"/>
<circle cx="345.9" cy="539.5" r="2.1" fill="#00ff00"/>
<circle cx="386.9" cy="541.6" r="2.1" fill="#00ff00"/>
<circle cx="427.3" cy="542.1" r="2.1" fill="#00ff00"/>
<circle cx="468.0" cy="552.6" r="3.2" fill="#00ff00"/>
<circle cx="184.5" cy="553.5" r="2.1" fill="#00ff00"/>
<circle cx="225.0" cy="557.2" r="2.1" fill="#00ff00"/>
<circle cx="265.1" cy="554.4" r="2.1" fill="#00ff00"/>
<circle cx="305.6" cy="551.1" r="3.2" fill="#00ff00"/>
<circle cx="345.9" cy="551.4" r="2.1" fill="#00ff00"/>
<circle cx="386.9" cy="558.0" r="2.1" fill="#00ff00"/>
<circle cx="427.3" cy="564.5" r="2.1" fill="#00ff00"/>
<circle cx="468.0" cy="564.3" r="3.2" fill="#00ff00"/>
<rect x="182.1" y="571.6" width="4.8" height="4.8" fill="#0000ff"/>
<rect x="222.6" y="573.3" width="4.8" height="4.8" fill="#0000ff"/>
<rect x="262.7" y="564.8" width="4.8" height="4.8" fill="#0000ff"/>
<rect x="302.0" y="562.6" width="7.2" height="7.2" fill="#0000ff"/>
<rect x="343.5" y="562.9" width="4.8" height="4.8" fill="#0000ff"/>
<rect x="384.5" y="563.6" width="4.8" height="4.8" fill="#0000ff"/>
<rect x="424.9" y="562.4" width="4.8" height="4.8" fill="#0000ff"/>
<rect x="464.4" y="555.1" width="7.2" height="7.2" fill="#0000ff"/>
<rect x="182.1" y="575.7" width="4.8" height="4.8" fill="#0000ff"/>
<rect x="222.6" y="577.3" width="4.8" height="4.8" fill="#0000ff"/>
<rect x="262.7" y="576.8" width="4.8" height="4.8" fill="#0000ff"/>
<rect x="302.0" y="575.3" width="7.2" height="7.2" fill="#0000ff"/>
<rect x="343.5" y="571.7" width="4.8" height="4.8" fill="#0000ff"/>
<rect x="384.5" y="567.8" width="4.8" height="4.8" fill="#0000ff"/>
<rect x="424.9" y="578.3" width="4.8" height="4.8" fill="#0000ff"/>
<rect x="464.4" y="579.6" width="7.2" height="7.2" fill="#0000ff"/>
<rect x="182.1" y="581.4" width="4.8" height="4.8" fill="#0000ff"/>
<rect x="222.6" y="580.6" width="4.8" height="4.8" fill="#0000ff"/>
<rect x="262.7" y="579.0" width="4.8" height="4.8" fill="#0000ff"/>
<rect x="302.0" y="578.6" width="7.2" height="7.2" fill="#0000ff"/>
<rect x="343.5" y="584.0" width="4.8" height="4.8" fill="#0000ff"/>
<rect x="384.5" y="589.9" width="4.8" height="4.8" fill="#0000ff"/>
<rect x="424.9" y="587.4" width="4.8" height="4.8" fill="#0000ff"/>
<rect x="464.4" y="578.9" width="7.2" height="7.2" fill="#0000ff"/>
<path d="M184.5,590.7L187.2,595.5L181.8,595.5Z" fill="#ff0000"/>
<path d="M225.0,583.4L227.8,588.2L222.2,588.2Z" fill="#ff0000"/>
<path d="M265.1,580.9L267.9,585.7L262.4,585.7Z" fill="#ff0000"/>
<path d="M305.6,580.4L309.6,587.4L301.6,587.4Z" fill="#ff0000"/>
<path d="M345.9,584.0L348.6,588.8L343.1,588.8Z" fill="#ff0000"/>
<path d="M386.9,585.2L389.6,590.0L384.1,590.0Z" fill="#ff0000"/>
<path d="M427.3,580.3L430.1,585.1L424.6,585.1Z" fill="#ff0000"/>
<path d="M468.0,577.8L472.0,584.8L464.0,584.8Z" fill="#ff0000"/>
<path d="M184.5,594.0L187.2,598.8L181.8,598.8Z" fill="#ff0000"/>
<path d="M225.0,593.7L227.8,598.5L222.2,598.5Z" fill="#ff0000"/>
<path d="M305.6,588.6L309.6,595.6L301.6,595.6Z" fill="#ff0000"/>
<path d="M345.9,588.4L348.6,593.2L343.1,593.2Z" fill="#ff0000"/>
<path d="M386.9,588.4L389.6,593.2L384.1,593.2Z" fill="#ff0000"/>
<path d="M427.3,585.2L430.1,590.0L424.6,590.0Z" fill="#ff0000"/>
<path d="M468.0,594.4L472.0,601.4L464.0,601.4Z" fill="#ff0000"/>
<path d="M184.5,596.4L187.2,601.2L181.8,601.2Z" fill="#ff0000"/>
<path d="M225.0,596.4L227.8,601.2L222.2,601.2Z" fill="#ff0000"/>
<path d="M265.1,592.4L267.9,597.2L262.4,597.2Z" fill="#ff0000"/>
<path d="M305.6,591.1L309.6,598.1L301.6,598.1Z" fill="#ff0000"/>
<path d="M345.9,593.3L348.6,598.1L343.1,598.1Z" fill="#ff0000"/>
<path d="M386.9,596.7L389.6,601.5L384.1,601.5Z" fill="#ff0000"/>
<path d="M427.3,597.4L430.1,602.2L424.6,602.2Z" fill="#ff0000"/>
<path d="M468.0,595.4L472.0,602.4L464.0,602.4Z" fill="#ff0000"/>
</g>
</svg>
</body></html>
